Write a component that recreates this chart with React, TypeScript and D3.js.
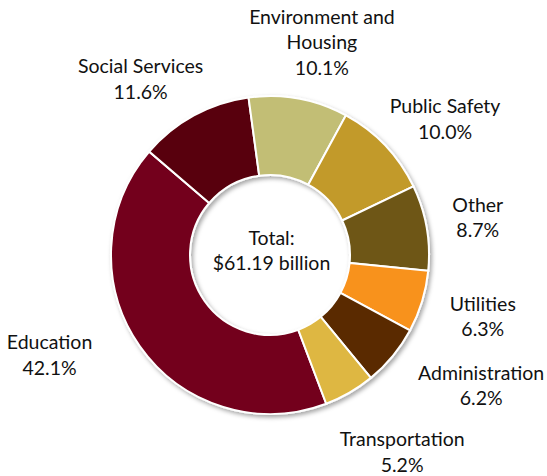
import React from "react";
import * as d3 from "d3";

const categories = [
  "Education",
  "Social Services",
  "Environment and Housing",
  "Public Safety",
  "Other",
  "Utilities",
  "Administration",
  "Transportation",
];
const values = [42.1, 11.6, 10.1, 10.0, 8.7, 6.3, 6.2, 5.2];
const labelLines = [
  ["Education"],
  ["Social Services"],
  ["Environment and", "Housing"],
  ["Public Safety"],
  ["Other"],
  ["Utilities"],
  ["Administration"],
  ["Transportation"],
];
const totalLines = ["Total:", "$61.19 billion"];

// styling / layout (kept apart from the data)
const colors = ["#73001a", "#580008", "#c2be74", "#c29a2a", "#6e5718", "#f8921e", "#5a2c00", "#deb742"];
// label placement relative to each slice: [angle shift in degrees, distance from centre]
const labelLayout: [number, number][] = [
  [9.2, 245],
  [-8.8, 213],
  [3.8, 212],
  [7.1, 217.5],
  [1.6, 210],
  [0.8, 223.5],
  [-6.4, 252],
  [-2.9, 243],
];

const W = 547;
const H = 476;
const CX = 270;
const CY = 255;
const R_OUT = 159;
const R_IN = 80;
const FONT = "Lato, 'Open Sans', sans-serif";
const FS = 19.5;
const LH = 25.5;
const START_DEG = -200.7;

export default function App() {
  const toRad = (d: number) => (d * Math.PI) / 180;
  const pie = d3
    .pie<number>()
    .sort(null)
    .value((d) => d)
    .startAngle(toRad(START_DEG))
    .endAngle(toRad(START_DEG + 360));
  const arcs = pie(values);
  const arc = d3.arc<d3.PieArcDatum<number>>().innerRadius(R_IN).outerRadius(R_OUT);

  return (
    <svg
      width={W}
      height={H}
      style={{ position: "absolute", left: 0, top: 0, background: "#fff" }}
    >
      <defs>
        <filter id="shadow" x="-20%" y="-20%" width="140%" height="140%">
          <feDropShadow dx="2" dy="2.5" stdDeviation="2.2" floodColor="#000" floodOpacity="0.35" />
        </filter>
      </defs>
      <rect x={0} y={0} width={W} height={H} fill="#fff" />
      <g transform={`translate(${CX},${CY})`}>
        <g filter="url(#shadow)">
          {arcs.map((a, i) => (
            <path key={categories[i]} d={arc(a) || ""} fill={colors[i]} stroke="#fff" strokeWidth={2} />
          ))}
        </g>
        {arcs.map((a, i) => {
          const mid = (a.startAngle + a.endAngle) / 2 + toRad(labelLayout[i][0]);
          const r = labelLayout[i][1];
          const x = Math.sin(mid) * r;
          const y = -Math.cos(mid) * r;
          const lines = [...labelLines[i], `${values[i].toFixed(1)}%`];
          const n = lines.length;
          return (
            <text
              key={"l" + i}
              x={x}
              textAnchor="middle"
              fontFamily={FONT}
              fontSize={FS}
              fill="#111"
            >
              {lines.map((t, j) => (
                <tspan key={j} x={x} y={y + (j - (n - 1) / 2) * LH}>
                  {t}
                </tspan>
              ))}
            </text>
          );
        })}
        <text textAnchor="middle" fontFamily={FONT} fontSize={FS} fill="#111">
          {totalLines.map((t, j) => (
            <tspan key={j} x={1.5} y={2.5 + (j - (totalLines.length - 1) / 2) * LH + 0}>
              {t}
            </tspan>
          ))}
        </text>
      </g>
    </svg>
  );
}
